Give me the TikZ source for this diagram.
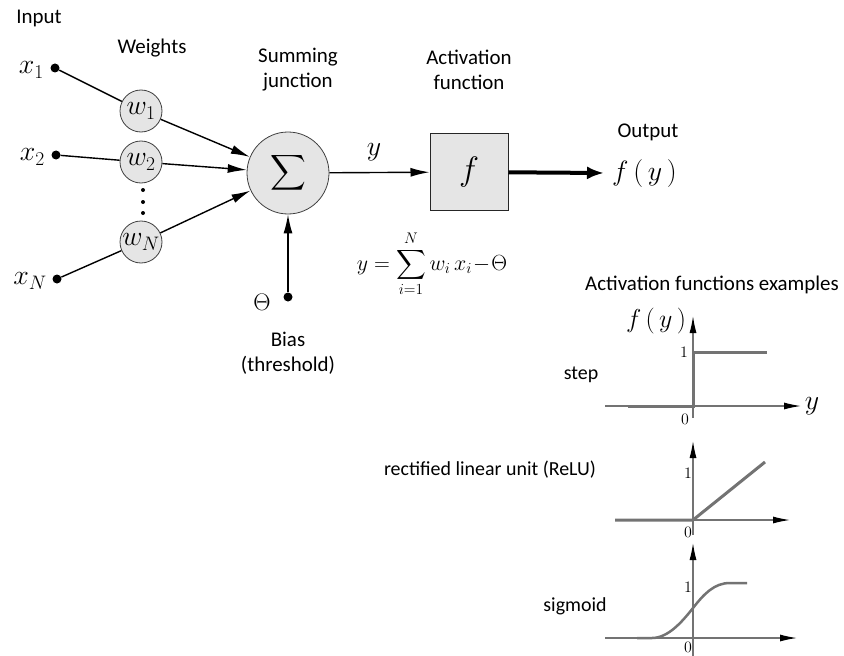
\RequirePackage{fix-cm}
\documentclass[tikz,border=0pt]{standalone}
\usepackage{exscale}
\usepackage{fontspec}
\setmainfont{Carlito}
\usetikzlibrary{arrows.meta}

\tikzset{
  lbl/.style={font=\fontsize{21}{25}\selectfont, inner sep=0pt, align=center},
  mlbl/.style={font=\fontsize{28}{32}\selectfont, inner sep=0pt},
  wnode/.style={circle, draw=black!75, line width=0.8bp, fill=gray!20,
    minimum size=42bp, inner sep=0pt, font=\fontsize{28}{32}\selectfont},
  sumnode/.style={circle, draw=black!75, line width=0.8bp, fill=gray!20,
    minimum size=82bp, inner sep=0pt},
  fbox/.style={rectangle, draw=black!85, line width=1bp, fill=gray!20,
    minimum width=78bp, minimum height=76bp, inner sep=0pt},
  pin/.style={circle, fill=black, minimum size=9bp, inner sep=0pt},
  vdot/.style={circle, fill=black, minimum size=4bp, inner sep=0pt},
  wire/.style={line width=1.4bp, black},
  feed/.style={wire, -{Latex[length=19bp,width=9bp]}},
  outarrow/.style={line width=4bp, black, -{Latex[length=17bp,width=13bp]}},
  axis/.style={line width=1.2bp, black!55, -{Latex[length=17bp,width=7bp,black]}},
  curve/.style={line width=3bp, black!55},
  tick/.style={font=\fontsize{16}{18}\selectfont, inner sep=0pt},
}

\begin{document}
\begin{tikzpicture}[x=1bp, y=-1bp]
\useasboundingbox (0,0) rectangle (844,656);

% ---- headings ----
\node[lbl] (hin) at (39,18) {Input};
\node[lbl] (hw) at (152,48) {Weights};
\node[lbl] (hsum) at (298,70) {Summing\\junction};
\node[lbl] (hact) at (469,70) {Activation\\function};
\node[lbl] (hout) at (648,132) {Output};

% ---- inputs ----
\node[pin] (x1) at (55,68) {};
\node[pin] (x2) at (56,155) {};
\node[pin] (xN) at (57,279) {};
\node[mlbl, anchor=east] (lx1) at (44,70) {$x_1$};
\node[mlbl, anchor=east] (lx2) at (45,157) {$x_2$};
\node[mlbl, anchor=east] (lxN) at (47,281) {$x_N$};

% ---- weights ----
\node[wnode] (w1) at (141,111) {$w_1$};
\node[wnode] (w2) at (141,162) {$w_2$};
\node[wnode] (wN) at (141,242) {$w_N$};
\node[vdot] (d1) at (143,190) {};
\node[vdot] (d2) at (143,202) {};
\node[vdot] (d3) at (143,213) {};

% ---- summing junction ----
\node[sumnode] (sig) at (288,173) {\fontsize{28}{32}\selectfont$\displaystyle\sum$};

% ---- bias ----
\node[pin] (bias) at (288,297) {};
\node[font=\fontsize{24}{28}\selectfont, inner sep=0pt] (theta) at (262,302) {$\Theta$};
\node[lbl] (hbias) at (288,353) {Bias\\(threshold)};

% ---- activation box and output ----
\node[fbox] (act) at (469,172) {\fontsize{34}{38}\selectfont$f$};
\coordinate (tip) at (604,173);
\node[mlbl, anchor=west] (fy) at (612,174) {$f\,(\,y\,)$};
\node[mlbl] (ylab) at (374,152) {$y$};

% ---- connectors ----
\draw[wire] (x1) -- (w1);
\draw[wire] (x2) -- (w2);
\draw[wire] (xN) -- (wN);
\draw[feed] (w1) -- (sig);
\draw[feed] (w2) -- (sig);
\draw[feed] (wN) -- (sig);
\draw[feed] (bias) -- (sig);
\draw[feed] (sig) -- (act);
\draw[outarrow] (act) -- (tip);

% ---- summation formula ----
\node[font=\fontsize{22}{26}\selectfont, inner sep=0pt] (formula) at (432,264)
  {$y=\displaystyle\sum_{i=1}^{N} w_i\,x_i\!-\!\Theta$};

% ---- examples ----
\node[lbl] (hex) at (712,285) {Activation functions examples};
\node[lbl, font=\fontsize{20}{24}\selectfont] (lstep) at (581,375) {step};
\node[lbl, font=\fontsize{20}{24}\selectfont] (lrelu) at (490,470) {rectified linear unit (ReLU)};
\node[lbl, font=\fontsize{20}{24}\selectfont] (lsig) at (575,606) {sigmoid};

% step
\draw[axis] (605,406) -- (801,406);
\draw[axis] (693,418) -- (693,316);
\draw[curve] (628,406) -- (693,406) -- (693,352) -- (767,352);
\node[tick] (s1) at (684,352) {$1$};
\node[tick] (s0) at (685,419) {$0$};
\node[mlbl, font=\fontsize{26}{30}\selectfont] (sfy) at (656,321) {$f\,(\,y\,)$};
\node[mlbl] (sy) at (812,406) {$y$};

% ReLU
\draw[axis] (615,520) -- (790,520);
\draw[axis] (693,535) -- (693,441);
\draw[curve] (615,520) -- (693,520) -- (765,462);
\node[tick] (r1) at (688,473) {$1$};
\node[tick] (r0) at (688,532) {$0$};

% sigmoid
\draw[axis] (605,638) -- (797,638);
\draw[axis] (693,656) -- (693,543);
\draw[curve, line width=2.5bp] (637,638) -- (652,638)
  .. controls (668,638) and (682,622) .. (693,608)
  .. controls (704,594) and (714,583) .. (730,583) -- (747,583);
\node[tick] (g1) at (688,587) {$1$};
\node[tick] (g0) at (688,647) {$0$};
\end{tikzpicture}
\end{document}
